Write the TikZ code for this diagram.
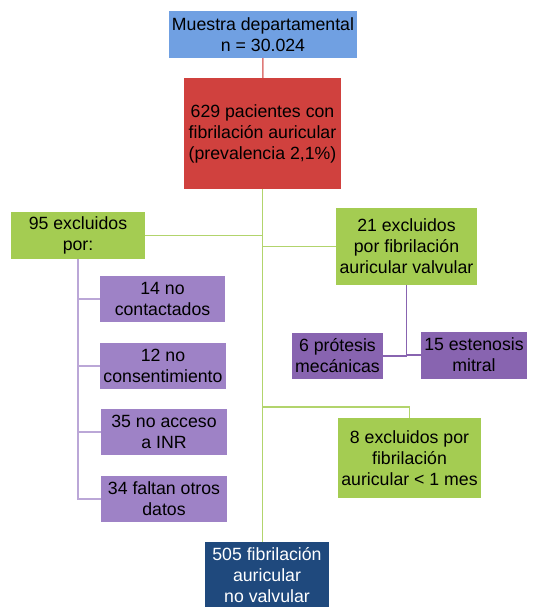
\documentclass[tikz,border=0pt]{standalone}
\usepackage{fontspec}
\setmainfont{Liberation Sans}
\definecolor{muestrablue}{RGB}{112,160,226}
\definecolor{pacred}{RGB}{208,65,62}
\definecolor{exclgreen}{RGB}{164,204,82}
\definecolor{motivpurple}{RGB}{158,130,198}
\definecolor{valvpurple}{RGB}{136,100,176}
\definecolor{finalnavy}{RGB}{31,73,125}
\usetikzlibrary{positioning,calc}

\begin{document}
\begin{tikzpicture}[x=1pt, y=-1pt,
    every node/.style={font=\fontsize{17.7}{21}\selectfont, align=center, inner sep=1pt},
    box/.style={minimum width=#1, text=black},
    redline/.style={draw=pacred!70, line width=1.5pt},
    greenline/.style={draw=exclgreen!85, line width=1.5pt},
    lightline/.style={draw=motivpurple!70, line width=1.5pt},
    darkline/.style={draw=valvpurple, line width=1.5pt}]
    \useasboundingbox (0,0) rectangle (533,607);

    % Main sequence
    \node[box=188pt, fill=muestrablue, minimum height=47pt] (muestra) at (263,34.5) {Muestra departamental\\n = 30.024};
    \node[box=157pt, fill=pacred, minimum height=111pt] (pac) at (262.5,133.5) {629 pacientes con\\fibrilación auricular\\(prevalencia 2,1\%)};
    \node[box=124pt, fill=finalnavy, minimum height=65pt, text=white, anchor=north] (final) at (267,542) {505 fibrilación\\auricular\\no valvular};
    \draw[redline] (muestra) -- (pac);
    \draw[greenline] (pac.south) -- (pac.south |- final.north);

    % Exclusions
    \node[box=134pt, fill=exclgreen, minimum height=47pt] (exc95) at (78,235.5) {95 excluidos\\por:};
    \node[box=141pt, fill=exclgreen, minimum height=77pt] (exc21) at (406.5,246.5) {21 excluidos\\por fibrilación\\auricular valvular};
    \node[box=143pt, fill=exclgreen, minimum height=80pt] (exc8) at (409.5,458) {8 excluidos por\\fibrilación\\auricular < 1 mes};
    \coordinate (b8) at (263,407);
    \draw[greenline] (exc95.east) -- (exc95.east -| pac.south);
    \draw[greenline] (exc21.west) -- (exc21.west -| pac.south);
    \draw[greenline] (b8) -| (exc8.north);

    % Reasons of the 95
    \node[box=125pt, fill=motivpurple, minimum height=46pt] (nocont) at (162.5,299) {14 no\\contactados};
    \node[box=126pt, fill=motivpurple, minimum height=46pt] (nocons) at (163,366) {12 no\\consentimiento};
    \node[box=126pt, fill=motivpurple, minimum height=46pt] (noinr) at (164,432) {35 no acceso\\a INR};
    \node[box=126pt, fill=motivpurple, minimum height=46pt] (faltan) at (164,499) {34 faltan otros\\datos};
    \foreach \m in {nocont,nocons,noinr,faltan}
        \draw[lightline] (exc95.south) |- (\m.west);

    % Valvular
    \node[box=91pt, fill=valvpurple, minimum height=46pt] (protesis) at (337.5,356) {6 prótesis\\mecánicas};
    \node[box=106pt, fill=valvpurple, minimum height=47pt] (estenosis) at (474,355) {15 estenosis\\mitral};
    \draw[darkline] (exc21.south) |- (protesis.east);
    \draw[darkline] (exc21.south) |- (estenosis.west);
\end{tikzpicture}
\end{document}
